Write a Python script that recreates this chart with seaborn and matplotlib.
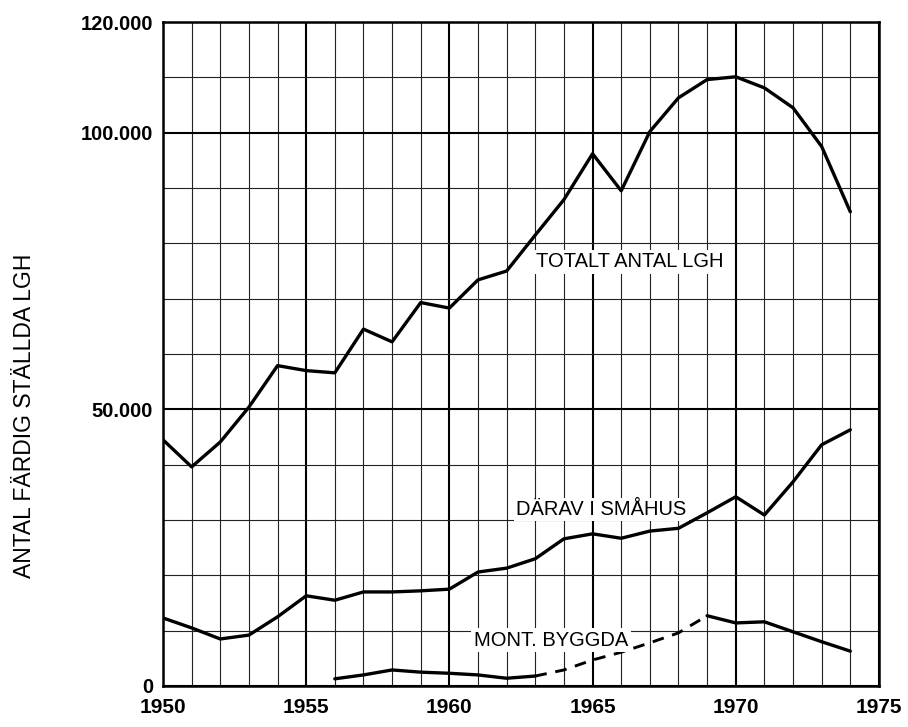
import numpy as np
import pandas as pd
import matplotlib
matplotlib.use("Agg")
import matplotlib.pyplot as plt
import seaborn as sns
from matplotlib.ticker import FixedLocator, MultipleLocator, FuncFormatter

# data (number of completed dwellings)
years = list(range(1950, 1975))
totalt = [44500, 39600, 44100, 50400, 57900, 57000, 56600, 64500, 62200, 69300,
          68300, 73400, 75000, 81500, 87900, 96200, 89500, 100200, 106300, 109600,
          110100, 108100, 104500, 97500, 85700]
smahus = [12300, 10500, 8500, 9200, 12500, 16300, 15500, 17000, 17000, 17200,
          17500, 20600, 21300, 23000, 26600, 27500, 26700, 28000, 28500, 31300,
          34200, 30900, 36900, 43600, 46300]
mont_years = list(range(1956, 1975))
mont = [1300, 2000, 2900, 2500, 2300, 2000, 1400, 1800, 2900, 4700,
        6100, 7800, 9600, 12700, 11400, 11600, 9800, 8000, 6300]
# the montage series is drawn dashed between these years (estimated part)
mont_dashed = (1963, 1969)

ylabel = "ANTAL FÄRDIG STÄLLDA LGH"
lbl_totalt = "TOTALT ANTAL LGH"
lbl_smahus = "DÄRAV I SMÅHUS"
lbl_mont = "MONT. BYGGDA"

sns.set_style("white")
plt.rcParams['font.family'] = ['Liberation Sans', 'DejaVu Sans']
plt.rcParams['text.color'] = 'black'
plt.rcParams['xtick.color'] = 'black'
plt.rcParams['ytick.color'] = 'black'

fig = plt.figure(figsize=(9.08, 7.27), dpi=100)
ax = fig.add_axes([0.1795, 0.0564, 0.7885, 0.9133])

df = pd.DataFrame({'year': years, 'totalt': totalt, 'smahus': smahus})
mdf = pd.DataFrame({'year': mont_years, 'mont': mont})

lw = 2.4
sns.lineplot(data=df, x='year', y='totalt', color='black', lw=lw, ax=ax)
sns.lineplot(data=df, x='year', y='smahus', color='black', lw=lw, ax=ax)

a, b = mont_dashed
part1 = mdf[mdf['year'] <= a]
part2 = mdf[(mdf['year'] >= a) & (mdf['year'] <= b)]
part3 = mdf[mdf['year'] >= b]
sns.lineplot(data=part1, x='year', y='mont', color='black', lw=lw, ax=ax)
sns.lineplot(data=part2, x='year', y='mont', color='black', lw=lw - 0.3, ax=ax,
             linestyle=(0, (4, 3)))
sns.lineplot(data=part3, x='year', y='mont', color='black', lw=lw, ax=ax)

ax.set_xlim(1950, 1975)
ax.set_ylim(0, 120000)

ax.xaxis.set_major_locator(MultipleLocator(5))
ax.xaxis.set_minor_locator(MultipleLocator(1))
ax.yaxis.set_major_locator(FixedLocator([0, 50000, 100000, 120000]))
ax.yaxis.set_minor_locator(MultipleLocator(10000))
ax.yaxis.set_major_formatter(FuncFormatter(lambda v, p: '0' if v == 0 else f"{int(v):,}".replace(',', '.')))

ax.grid(True, which='major', color='black', lw=1.5)
ax.grid(True, which='minor', color='#222222', lw=0.8)
ax.set_axisbelow(True)

for s in ax.spines.values():
    s.set_color('black')
    s.set_linewidth(1.8)

ax.tick_params(axis='both', which='both', length=0)
ax.tick_params(axis='y', pad=7, labelsize=14.5)
ax.tick_params(axis='x', pad=9, labelsize=15)
for t in ax.get_xticklabels() + ax.get_yticklabels():
    t.set_fontweight('bold')

ax.set_xlabel('')
ax.set_ylabel('')
fig.text(0.027, 0.428, ylabel, rotation=90, ha='center', va='center', fontsize=16.5)

box = dict(boxstyle='square,pad=0.12', fc='white', ec='none')
ax.text(1966.3, 76700, lbl_totalt, ha='center', va='center', fontsize=14.5, bbox=box)
ax.text(1965.3, 31900, lbl_smahus, ha='center', va='center', fontsize=14.5, bbox=box)
ax.text(1963.55, 8300, lbl_mont, ha='center', va='center', fontsize=14.5, bbox=box)

fig.savefig('out.png', dpi=100)
